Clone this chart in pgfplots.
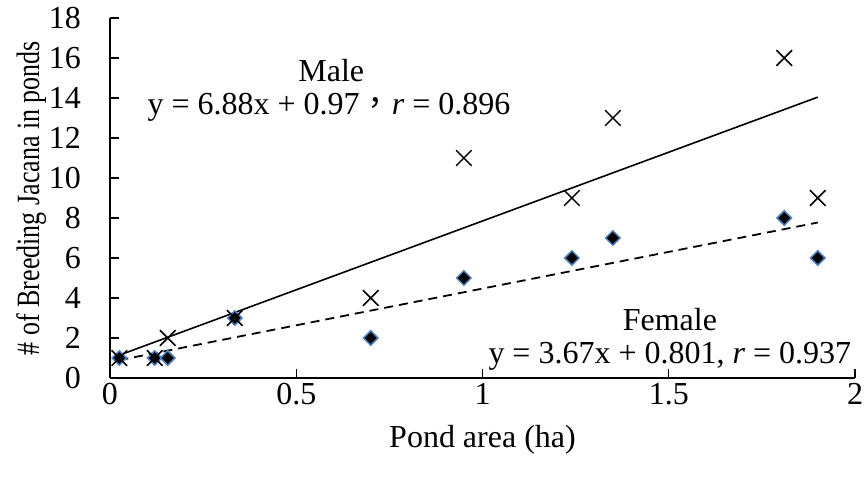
\documentclass[border=0pt]{standalone}
\usepackage{fontspec}
\setmainfont{Liberation Serif}
\newfontfamily\cjk{Noto Sans CJK TC}
\usepackage{pgfplots}
\usepackage{pgfplotstable}
\pgfplotsset{compat=1.18}

\definecolor{mkblue}{HTML}{4F81BD}

% Breeding jacanas per pond: pond area (ha), males, females
\pgfplotstableread{
area  male female
0.025  1   1
0.12   1   1
0.155  2   1
0.335  3   3
0.70   4   2
0.95  11   5
1.24   9   6
1.35  13   7
1.81  16   8
1.90   9   6
}\ponds

% Fitted lines evaluated at the ends of the data range
\pgfplotstableread{
x     male    female
0.025 1.142   0.893
1.90  14.042  7.774
}\fits

\newcommand\lbl{\fontsize{32}{38}\selectfont}

\begin{document}
\begin{tikzpicture}
\begin{axis}[
  scale only axis,
  width=745pt, height=360pt,
  xmin=0, xmax=2, ymin=0, ymax=18,
  axis lines=left,
  axis line style={-, line width=1.3pt},
  xtick={0,0.5,1,1.5,2},
  ytick={0,2,...,18},
  tick align=inside,
  major tick length=9pt,
  tick style={line width=1.3pt, black},
  ticklabel style={font=\lbl},
  /pgf/number format/assume math mode=true,
  yticklabel style={inner sep=0pt, xshift=-29pt},
  xticklabel style={yshift=-2pt},
  xlabel={Pond area (ha)},
  ylabel={\scalebox{1}[1.25]{\fontsize{26}{30}\selectfont \# of Breeding Jacana in ponds}},
  xlabel style={font=\lbl, at={(axis description cs:0.5,-0.192)}, anchor=base},
  ylabel style={at={(axis description cs:-0.095,0.5)}, anchor=base},
  clip=false,
]
\coordinate (O) at (axis cs:0,0);

% trend lines
\addplot[black, line width=1.6pt] table[x=x, y=male] {\fits};
\addplot[black, line width=1.8pt, dash pattern=on 9pt off 6pt] table[x=x, y=female] {\fits};

% females
\addplot[only marks, mark=square*, mark size=5.1pt,
  mark options={rotate=45, fill=black, draw=mkblue, line width=1.5pt}]
  table[x=area, y=female] {\ponds};
% males
\addplot[only marks, mark=x, mark size=11pt,
  mark options={draw=black, line width=1.5pt}]
  table[x=area, y=male] {\ponds};

\node[font=\lbl, anchor=base] at (axis cs:0.594,14.8) {Male};
\node[font=\lbl, anchor=base] at (axis cs:0.588,13.15)
  {y = 6.88x + 0.97{\cjk ，}\textit{r} = 0.896};
\node[font=\lbl, anchor=base] at (axis cs:1.503,2.4) {Female};
\node[font=\lbl, anchor=base] at (axis cs:1.503,0.75)
  {y = 3.67x + 0.801, \textit{r} = 0.937};
\end{axis}
\pgfresetboundingbox
\path ([shift={(-110pt,-99pt)}]O) rectangle ([shift={(757pt,378pt)}]O);
\end{tikzpicture}
\end{document}
